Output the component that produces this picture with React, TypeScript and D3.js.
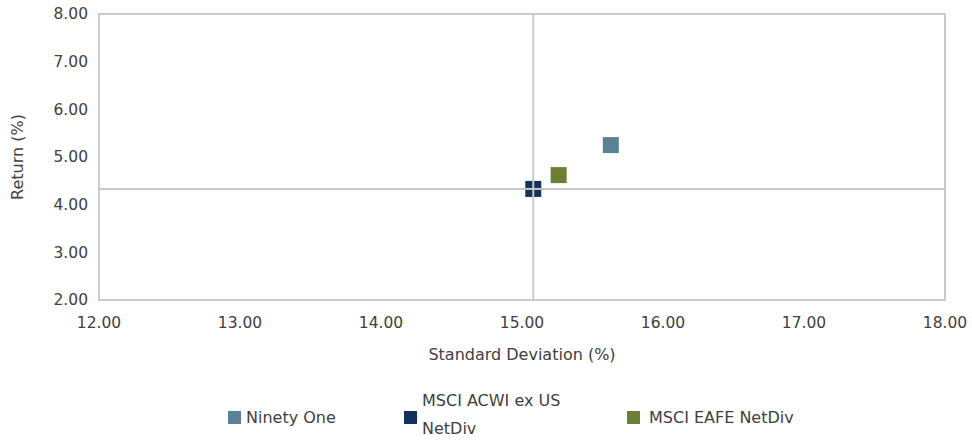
import * as React from 'react';
import * as d3 from 'd3';

const width = 972;
const height = 442;
const margin = { top: 14, right: 27, bottom: 142, left: 99 };

const names = ['Ninety One', 'MSCI ACWI ex US NetDiv', 'MSCI EAFE NetDiv'];
const stdDev = [15.63, 15.08, 15.26];
const returns = [5.25, 4.33, 4.62];
const colors = ['#5b8197', '#12325a', '#6b7f35'];
const xTicks = [12, 13, 14, 15, 16, 17, 18];
const yTicks = [2, 3, 4, 5, 6, 7, 8];

const font = "'DejaVu Sans', sans-serif";
const textColor = '#404040';
const gridColor = '#cacaca';

const App: React.FC = () => {
  const x = d3.scaleLinear([12, 18], [margin.left, width - margin.right]);
  const y = d3.scaleLinear([2, 8], [height - margin.bottom, margin.top]);
  const benchX = x(stdDev[1]);
  const benchY = y(returns[1]);

  const legend = [
    { lines: ['Ninety One'], sx: 228, tx: 246 },
    { lines: ['MSCI ACWI ex US', 'NetDiv'], sx: 404, tx: 422 },
    { lines: ['MSCI EAFE NetDiv'], sx: 627, tx: 649 },
  ];

  return (
    <svg
      width={width}
      height={height}
      viewBox={`0 0 ${width} ${height}`}
      style={{ position: 'absolute', left: 0, top: 0, fontFamily: font }}
    >
      <rect x={0} y={0} width={width} height={height} fill="#fff" />
      <rect
        x={margin.left}
        y={margin.top}
        width={width - margin.left - margin.right}
        height={height - margin.top - margin.bottom}
        fill="none"
        stroke={gridColor}
        strokeWidth={2}
      />
      <line x1={benchX} x2={benchX} y1={margin.top} y2={height - margin.bottom} stroke={gridColor} strokeWidth={2} />
      <line x1={margin.left} x2={width - margin.right} y1={benchY} y2={benchY} stroke={gridColor} strokeWidth={2} />

      {yTicks.map((t) => (
        <text key={t} x={88} y={y(t)} dy="0.35em" textAnchor="end" fontSize={15.5} fill={textColor}>
          {t.toFixed(2)}
        </text>
      ))}
      {xTicks.map((t) => (
        <text key={t} x={x(t)} y={323} dy="0.35em" textAnchor="middle" fontSize={15.5} fill={textColor}>
          {t.toFixed(2)}
        </text>
      ))}
      <text x={522} y={354} dy="0.35em" textAnchor="middle" fontSize={16} fill={textColor}>
        Standard Deviation (%)
      </text>
      <text
        transform={`translate(17, ${(margin.top + height - margin.bottom) / 2}) rotate(-90)`}
        dy="0.35em"
        textAnchor="middle"
        fontSize={16}
        fill={textColor}
      >
        Return (%)
      </text>

      {names.map((n, i) => (
        <rect
          key={n}
          x={x(stdDev[i]) - 8}
          y={y(returns[i]) - 8}
          width={16}
          height={16}
          fill={colors[i]}
        />
      ))}
      <line x1={benchX} x2={benchX} y1={benchY - 8} y2={benchY + 8} stroke={gridColor} strokeWidth={2} />
      <line x1={benchX - 8} x2={benchX + 8} y1={benchY} y2={benchY} stroke={gridColor} strokeWidth={2} />

      {legend.map((l, i) => (
        <g key={i}>
          <rect x={l.sx} y={411} width={13} height={13} fill={colors[i]} />
          {l.lines.map((s, j) => (
            <text
              key={s}
              x={l.tx}
              y={l.lines.length > 1 ? 400 + j * 28 : 417}
              dy="0.35em"
              fontSize={16}
              fill={textColor}
            >
              {s}
            </text>
          ))}
        </g>
      ))}
    </svg>
  );
};

export default App;
